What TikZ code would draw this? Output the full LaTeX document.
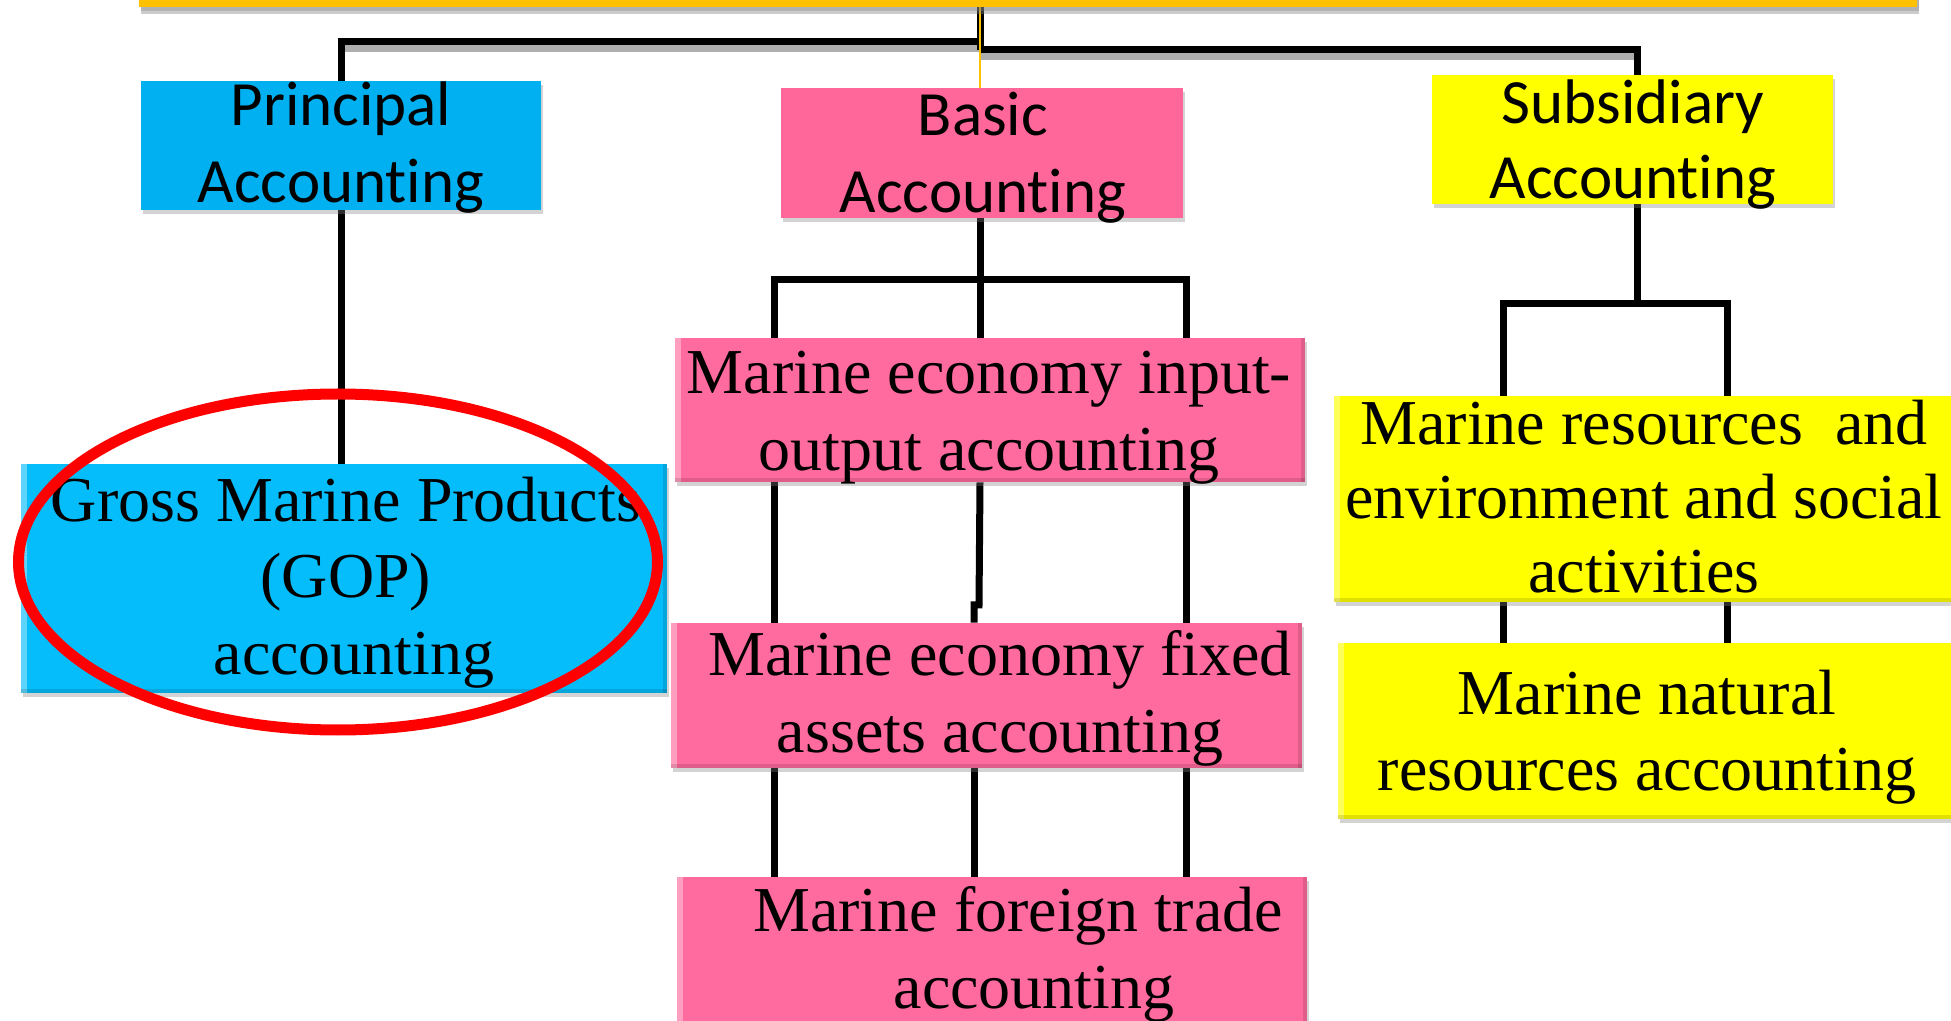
\documentclass[tikz,border=0pt]{standalone}
\usepackage{fontspec}
\setmainfont{Liberation Serif}
\newfontfamily\calfont[Ligatures=NoCommon]{Carlito}
\usetikzlibrary{fit,shapes.geometric,shadows}
\pgfdeclarelayer{bg}
\pgfsetlayers{bg,main}
\definecolor{barorange}{HTML}{FFC000}
\definecolor{princblue}{HTML}{00B0F0}
\definecolor{gopblue}{HTML}{06BDFB}
\definecolor{pinkbox}{HTML}{FF6699}
\definecolor{pinklow}{HTML}{FF6B9E}
\definecolor{yellowbox}{HTML}{FFFF00}
\definecolor{ringred}{HTML}{FF0000}
\tikzset{
  box/.style={rectangle, draw=none, inner sep=0pt,
    drop shadow={shadow xshift=1.2pt, shadow yshift=-2pt, opacity=.35}},
  bevel/.style={path picture={
    \fill[white, opacity=.35] (path picture bounding box.north west) rectangle ([xshift=3pt]path picture bounding box.south west);
    \fill[black, opacity=.12] (path picture bounding box.south west) rectangle ([yshift=2pt]path picture bounding box.south east);
    \fill[black, opacity=.12] (path picture bounding box.north east) rectangle ([xshift=-2pt]path picture bounding box.south east);}},
  headtxt/.style={align=center, anchor=base, inner sep=0pt,
    font=\calfont\fontsize{31.5}{38.5}\selectfont},
  lowtxt/.style={align=center, anchor=base, inner sep=0pt,
    font=\fontsize{32}{38.5}\selectfont},
  conn/.style={line width=3.5pt, black, line join=miter},
  topconn/.style={line width=3.5pt, black, line join=miter,
    preaction={draw=black!45, opacity=.7, line width=3.5pt, transform canvas={yshift=-3.5pt}}},
  thinorange/.style={line width=1pt, barorange}
}
\begin{document}
\begin{tikzpicture}[x=0.5pt,y=-0.5pt]
\useasboundingbox (0,0) rectangle (1951,1021);
% boxes
\node (top) [box, fill=barorange, fit={(139,-30) (1917,7)}, drop shadow={shadow xshift=1pt, shadow yshift=-3.5pt, opacity=.4}] {};
\node (principal) [box, fill=princblue, fit={(141,81) (541,210)}] {};
\node (basic) [box, fill=pinkbox, fit={(781,88) (1183,218)}] {};
\node (subsidiary) [box, fill=yellowbox, fit={(1432,75) (1833,204)}] {};
\node (gop) [box, bevel, fill=gopblue, fit={(21,464) (667,693)}] {};
\node (io) [box, bevel, fill=pinklow, fit={(675,338) (1305,482)}] {};
\node (fixed) [box, bevel, fill=pinklow, fit={(671,623) (1302,768)}] {};
\node (trade) [box, bevel, fill=pinklow, fit={(677,877) (1307,1045)}] {};
\node (res) [box, bevel, fill=yellowbox, fit={(1334,396) (1965,602)}] {};
\node (nat) [box, bevel, fill=yellowbox, fit={(1338,643) (1965,819)}] {};
% texts (anchor base = baseline of last line)
\node (tPrincipal) [headtxt] at (341,203) {Principal\\Accounting};
\node (tBasic) [headtxt] at (983,213) {Basic\\Accounting};
\node (tSubsidiary) [headtxt, font=\calfont\fontsize{31.5}{37.5}\selectfont] at (1633,199) {Subsidiary\\Accounting};
\node (tGop) [lowtxt] at (346,675) {Gross Marine Products\\(GOP)\\\hspace*{8pt}accounting};
\node (tIo) [lowtxt] at (989,471) {Marine economy input-\\output accounting};
\node (tFixed) [lowtxt] at (1000,752) {Marine economy fixed\\assets accounting};
\node (tTrade) [lowtxt] at (1018,1008) {Marine foreign trade\\\hspace*{16pt}accounting};
\node (tRes) [lowtxt, font=\fontsize{32}{37}\selectfont] at (1644,593) {Marine resources~ and\\environment and social\\activities};
\node (tNat) [lowtxt] at (1647,791) {Marine natural\\resources accounting};
% junction coordinates
\coordinate (hubL) at (980,42);
\coordinate (hubR) at (980,50);
\coordinate (bj) at (980,280);
\coordinate (b1) at (774,280);
\coordinate (b3) at (1186,280);
\coordinate (jogA) at (979,605);
\coordinate (jogB) at (974,605);
\coordinate (sj) at (1637,304);
\coordinate (s1) at (1503,304);
\coordinate (s2) at (1727,304);
% connectors
\begin{pgfonlayer}{bg}
\draw[topconn] (hubR) -| (subsidiary.north -| sj);
\draw[topconn] (hubL) -| (principal.north);
\draw[conn] (top.south -| hubR) -- (hubR);
\draw[conn] (principal.south) -- (principal.south |- gop.north);
\draw[conn] (basic.south -| bj) -- (bj);
\draw[conn] (b1 |- io.north) -- (b1) -- (b3) -- (b3 |- io.north);
\draw[conn] (bj) -- (bj |- io.north);
\draw[conn] (b1 |- io.south) -- (b1 |- fixed.north);
\draw[conn] (b3 |- io.south) -- (b3 |- fixed.north);
\draw[conn] (bj |- io.south) -- (jogA) -- (jogB) -- (jogB |- fixed.north);
\draw[conn] (b1 |- fixed.south) -- (b1 |- trade.north);
\draw[conn] (jogB |- fixed.south) -- (jogB |- trade.north);
\draw[conn] (b3 |- fixed.south) -- (b3 |- trade.north);
\draw[conn] (sj |- subsidiary.south) -- (sj);
\draw[conn] (s1 |- res.north) -- (s1) -- (s2) -- (s2 |- res.north);
\draw[conn] (s1 |- res.south) -- (s1 |- nat.north);
\draw[conn] (s2 |- res.south) -- (s2 |- nat.north);
\draw[thinorange] (top.south -| hubR) -- (basic.north -| hubR);
\end{pgfonlayer}
% highlight ring
\node (ring) [ellipse, draw=ringred, line width=5.5pt, minimum width=319.5pt, minimum height=168pt, inner sep=0pt] at (338,562) {};
\end{tikzpicture}
\end{document}
